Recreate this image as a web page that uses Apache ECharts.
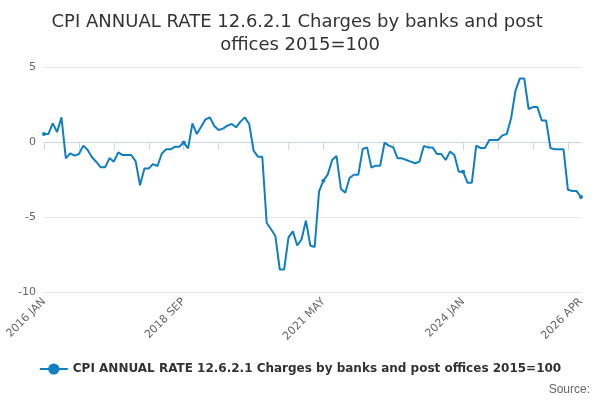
<!DOCTYPE html>
<html>
<head>
<meta charset="utf-8">
<script src="https://cdn.jsdelivr.net/npm/echarts@6/dist/echarts.min.js"></script>
<style>html,body{margin:0;padding:0;background:#fff}#c{width:600px;height:400px}</style>
</head>
<body>
<div id="c"></div>
<script>
var years = [2016, 2017, 2018, 2019, 2020, 2021, 2022, 2023, 2024, 2025, 2026];
var months = ["JAN", "FEB", "MAR", "APR", "MAY", "JUN", "JUL", "AUG", "SEP", "OCT", "NOV", "DEC"];
var values = [
  0.53, 0.53, 1.24, 0.67, 1.64, -1.09, -0.76, -0.91, -0.8, -0.24, -0.53, -1.02,
  -1.33, -1.69, -1.69, -1.07, -1.31, -0.69, -0.87, -0.87, -0.87, -1.29, -2.89, -1.76,
  -1.76, -1.47, -1.6, -0.76, -0.49, -0.49, -0.31, -0.31, -0.04, -0.42, 1.24, 0.53,
  1.02, 1.51, 1.64, 1.07, 0.8, 0.89, 1.09, 1.2, 0.98, 1.36, 1.64, 1.2,
  -0.58, -0.98, -0.98, -5.38, -5.82, -6.27, -8.5, -8.5, -6.36, -5.96, -6.9, -6.49,
  -5.24, -6.9, -7.0, -3.29, -2.58, -2.16, -1.2, -0.93, -3.11, -3.38, -2.38, -2.18,
  -2.18, -0.47, -0.36, -1.71, -1.58, -1.58, -0.04, -0.24, -0.36, -1.09, -1.09, -1.2,
  -1.31, -1.42, -1.31, -0.27, -0.36, -0.36, -0.8, -0.8, -1.2, -0.64, -0.87, -1.98,
  -1.98, -2.71, -2.71, -0.24, -0.4, -0.4, 0.13, 0.13, 0.13, 0.44, 0.53, 1.6,
  3.42, 4.24, 4.24, 2.2, 2.33, 2.33, 1.44, 1.44, -0.4, -0.49, -0.49, -0.49,
  -3.18, -3.27, -3.27, -3.67
];
var labelIndexes = [0, 32, 64, 96, 123];
var seriesName = "CPI ANNUAL RATE 12.6.2.1 Charges by banks and post offices 2015=100";

var categories = values.map(function (v, i) {
  return years[Math.floor(i / 12)] + " " + months[i % 12];
});

var chart = echarts.init(document.getElementById("c"));
chart.setOption({
  animation: false,
  textStyle: { fontFamily: "DejaVu Sans" },
  title: {
    text: "CPI ANNUAL RATE 12.6.2.1 Charges by banks and post offices 2015=100",
    left: "center",
    top: 6,
    textStyle: { fontSize: 18, fontWeight: "normal", color: "#333", width: 520, overflow: "break", lineHeight: 23 }
  },
  grid: { left: 44, right: 19, top: 67, bottom: 108 },
  legend: {
    bottom: 20,
    left: "center",
    itemWidth: 28,
    textStyle: { fontSize: 12, fontWeight: "bold", color: "#333" },
    data: [seriesName]
  },
  graphic: [{
    type: "text", right: 10, bottom: 4,
    style: { text: "Source:", fontSize: 12, fill: "#666" }
  }],
  xAxis: {
    type: "category",
    data: categories,
    boundaryGap: false,
    axisLine: { lineStyle: { color: "#ccd6eb" } },
    axisTick: { interval: 7, length: 8, lineStyle: { color: "#ccd6eb" } },
    axisLabel: {
      rotate: 45, color: "#666", fontSize: 11,
      interval: function (i) { return labelIndexes.indexOf(i) >= 0; }
    }
  },
  yAxis: {
    type: "value",
    min: -10, max: 5, interval: 5,
    axisLabel: { color: "#666", fontSize: 11 },
    splitLine: { lineStyle: { color: "#e6e6e6" } }
  },
  series: [{
    name: seriesName,
    type: "line",
    data: values,
    symbol: "circle",
    symbolSize: 4,
    itemStyle: { color: "#0f7fc1" },
    lineStyle: { width: 2, color: "#0f7fc1" }
  }]
});
</script>
</body>
</html>
